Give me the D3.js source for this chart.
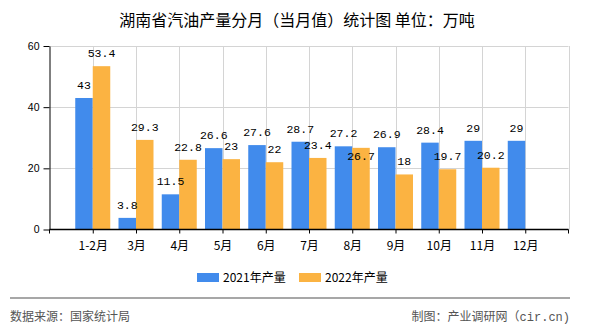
<!DOCTYPE html>
<html><head><meta charset="utf-8">
<script src="https://cdn.jsdelivr.net/npm/d3@7"></script>
<style>html,body{margin:0;padding:0;background:#fff;}svg{display:block;}</style>
</head><body>
<svg id="chart" width="590" height="330"></svg>
<script>
const categories = ["1-2月","3月","4月","5月","6月","7月","8月","9月","10月","11月","12月"];
const seriesNames = ["2021年产量","2022年产量"];
const values2021 = [43,3.8,11.5,26.6,27.6,28.7,27.2,26.9,28.4,29,29];
const values2022 = [53.4,29.3,22.8,23,22,23.4,26.7,18,19.7,20.2,null];
const yTicks = [0,20,40,60];
const colors = ["#418bec","#fbb342"];
const titleText = "湖南省汽油产量分月（当月值）统计图 单位：万吨";
const sourceText = "数据来源：国家统计局";
const creditText = "制图：产业调研网（";
const creditSite = "cir.cn)";

(function(){
const svg = d3.select("#chart");
const pLeft = 49.5, pRight = 568.5, pTop = 46, pBottom = 229.5;
const cjk = "'Noto Sans CJK SC','Noto Sans',sans-serif";
const mono = "'Liberation Mono','DejaVu Sans Mono',monospace";

const x = d3.scalePoint().domain(categories).range([pLeft, pRight]).padding(1);
const xs = d3.scaleBand().domain(seriesNames).range([-17.5, 17.5]);
const y = d3.scaleLinear().domain([0, 60]).range([pBottom, pTop]);

// title
svg.append("text").attr("x", 297).attr("y", 26).attr("text-anchor", "middle")
  .style("font-family", cjk).style("font-size", "16px").attr("fill", "#000").text(titleText);

// grid
const grid = svg.append("g").attr("stroke", "#d4d4d4").attr("stroke-width", 1);
yTicks.filter(t => t > 0).forEach(t => {
  grid.append("line").attr("x1", pLeft).attr("x2", pRight).attr("y1", Math.round(y(t)) + 0.5).attr("y2", Math.round(y(t)) + 0.5);
});
categories.concat(["__end"]).forEach(c => {
  const xx = c === "__end" ? pRight : x(c);
  grid.append("line").attr("x1", Math.round(xx) + 0.5).attr("x2", Math.round(xx) + 0.5).attr("y1", pTop).attr("y2", pBottom);
});

// bars
const series = [values2021, values2022];
series.forEach((vals, si) => {
  svg.append("g").selectAll("rect").data(categories.map((c, i) => ({c, v: vals[i]})).filter(d => d.v != null))
    .join("rect")
    .attr("x", d => x(d.c) + xs(seriesNames[si]))
    .attr("width", xs.bandwidth())
    .attr("y", d => y(d.v))
    .attr("height", d => y(0) - y(d.v))
    .attr("fill", colors[si]);
});

// axes
const yAxis = svg.append("g").attr("transform", `translate(${pLeft},0)`)
  .call(d3.axisLeft(y).tickValues(yTicks).tickSize(6).tickPadding(4).tickSizeOuter(0));
yAxis.selectAll("text").style("font-family", "'Liberation Sans',Arial,sans-serif").style("font-size", "10.5px").attr("fill", "#000");
yAxis.selectAll("line,path").attr("stroke", "#000");

const xAxisG = svg.append("g").attr("transform", `translate(0,${pBottom})`);
xAxisG.append("line").attr("x1", pLeft).attr("x2", pRight).attr("stroke", "#000").attr("stroke-width", 1.5);
const xAxis = xAxisG.append("g").call(d3.axisBottom(x).tickSize(4).tickPadding(6));
xAxis.select(".domain").remove();
xAxis.selectAll("line").attr("stroke", "#000");
xAxis.selectAll("text").style("font-family", cjk).style("font-size", "12px").attr("fill", "#000").attr("dy", "0.9em");
[pLeft, pRight].forEach(xx => xAxisG.append("line").attr("x1", xx).attr("x2", xx).attr("y1", 0).attr("y2", 4).attr("stroke", "#000"));

// value labels with simple collision handling
const labels = [];
categories.forEach((c, i) => {
  series.forEach((vals, si) => {
    const v = vals[i];
    if (v == null) return;
    const cx = x(c) + xs(seriesNames[si]) + xs.bandwidth() / 2;
    const w = String(v).length * 6.6;
    labels.push({c, si, v, cx, w, base: y(v) - 9, topY: y(v)});
  });
});
categories.forEach(c => {
  const a = labels.find(l => l.c === c && l.si === 0), b = labels.find(l => l.c === c && l.si === 1);
  if (a && b) {
    const hOverlap = Math.abs(a.cx - b.cx) < (a.w + b.w) / 2;
    const vOverlap = Math.abs(a.base - b.base) < 10;
    if (hOverlap && vOverlap) {
      const low = a.v < b.v ? a : b;
      low.base = low.topY + 12;
    }
  }
});
svg.append("g").selectAll("text").data(labels).join("text")
  .attr("x", d => d.cx).attr("y", d => d.base).attr("text-anchor", "middle")
  .style("font-family", mono).style("font-size", "11.5px").attr("fill", "#000")
  .text(d => d.v);

// legend
const legend = svg.append("g");
const legX = [197, 299];
seriesNames.forEach((s, i) => {
  legend.append("rect").attr("x", legX[i]).attr("y", 273).attr("width", 22).attr("height", 9).attr("fill", colors[i]);
  legend.append("text").attr("x", legX[i] + 26).attr("y", 282).style("font-family", cjk).style("font-size", "12px").attr("fill", "#000").text(s);
});

// footer
svg.append("line").attr("x1", 10).attr("x2", 570).attr("y1", 298).attr("y2", 298).attr("stroke", "#8a8a8a").attr("stroke-width", 1.5);
svg.append("text").attr("x", 10).attr("y", 321).style("font-family", cjk).style("font-size", "12px").attr("fill", "#555").text(sourceText);
const credit = svg.append("text").attr("x", 570).attr("y", 321).attr("text-anchor", "end").style("font-family", cjk).style("font-size", "12px").attr("fill", "#555");
credit.append("tspan").text(creditText);
credit.append("tspan").style("font-family", mono).text(creditSite);
})();
</script>
</body></html>
